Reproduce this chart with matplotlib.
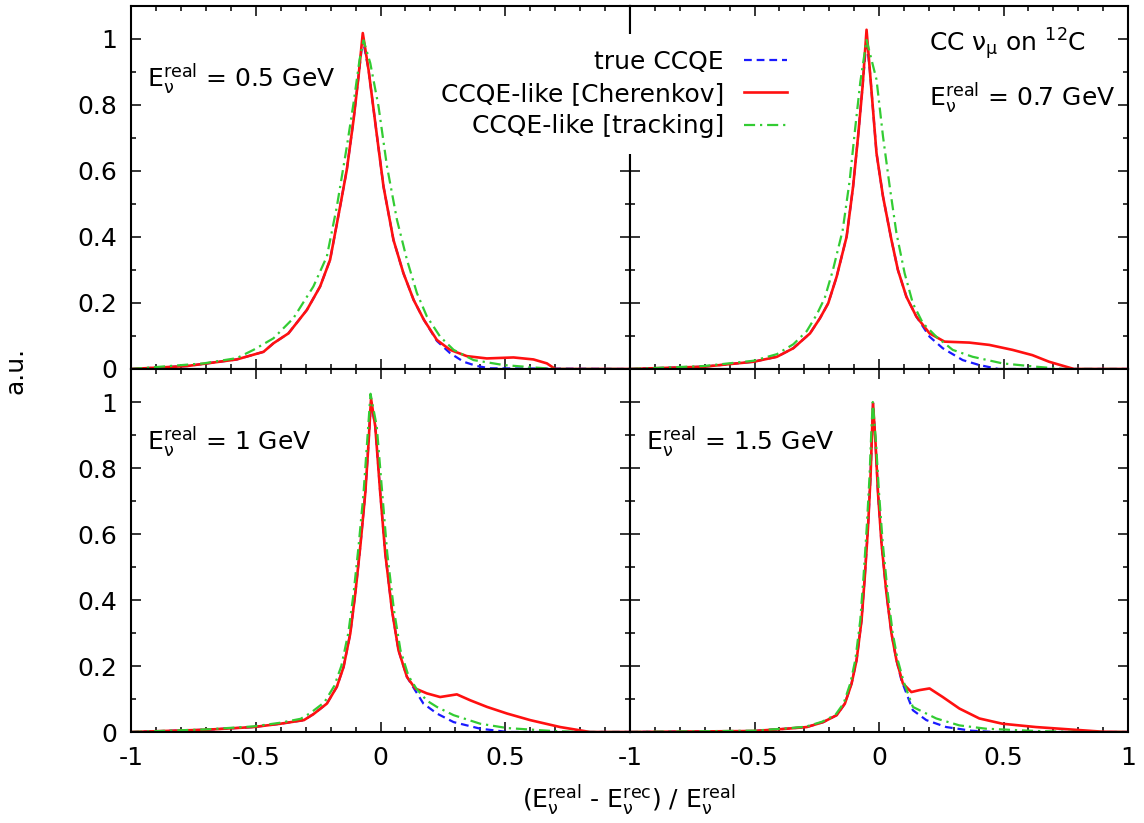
import matplotlib
matplotlib.use("Agg")
import matplotlib.pyplot as plt
from matplotlib.ticker import MultipleLocator, FixedLocator

plt.rcParams['font.family'] = ['DejaVu Sans']
plt.rcParams['mathtext.fontset'] = 'custom'
plt.rcParams['mathtext.rm'] = 'DejaVu Sans'
plt.rcParams['mathtext.it'] = 'DejaVu Sans'
plt.rcParams['mathtext.bf'] = 'DejaVu Sans:bold'

FS = 18

# ---------------- data: (E_real - E_rec)/E_real distributions ----------------
# E = 0.5 GeV
x_true_05 = [-1.0, -0.775, -0.576, -0.469, -0.429, -0.369, -0.295, -0.242, -0.202, -0.162, -0.135,
             -0.108, -0.088, -0.071, -0.048, -0.014, 0.012, 0.052, 0.092, 0.133, 0.174, 0.226,
             0.279, 0.333, 0.386, 0.44, 1.0]
y_true_05 = [0.0, 0.009, 0.029, 0.052, 0.078, 0.108, 0.179, 0.250, 0.331, 0.492, 0.604, 0.755,
             0.887, 1.0, 0.907, 0.705, 0.553, 0.391, 0.290, 0.209, 0.149, 0.085, 0.048, 0.022,
             0.009, 0.002, 0.0]
x_cher_05 = [-1.0, -0.775, -0.576, -0.469, -0.429, -0.369, -0.295, -0.242, -0.202, -0.162, -0.135,
             -0.108, -0.088, -0.071, -0.048, -0.014, 0.012, 0.052, 0.092, 0.133, 0.174, 0.226,
             0.279, 0.346, 0.426, 0.533, 0.613, 0.667, 0.700, 1.0]
y_cher_05 = [0.0, 0.009, 0.029, 0.052, 0.078, 0.108, 0.179, 0.250, 0.331, 0.492, 0.604, 0.755,
             0.887, 1.018, 0.907, 0.705, 0.553, 0.391, 0.290, 0.209, 0.149, 0.088, 0.058, 0.039,
             0.032, 0.035, 0.029, 0.017, 0.0, 0.0]
x_trk_05 = [-1.0, -0.709, -0.576, -0.509, -0.429, -0.349, -0.269, -0.215, -0.175, -0.135, -0.108,
            -0.084, -0.068, -0.041, -0.008, 0.026, 0.066, 0.106, 0.146, 0.186, 0.239, 0.293,
            0.373, 0.493, 0.627, 0.70, 1.0]
y_trk_05 = [0.0, 0.017, 0.033, 0.058, 0.093, 0.154, 0.250, 0.341, 0.492, 0.674, 0.806, 0.937,
            0.996, 0.927, 0.796, 0.614, 0.452, 0.331, 0.230, 0.159, 0.098, 0.058, 0.027, 0.012,
            0.004, 0.0, 0.0]

# E = 0.7 GeV
x_true_07 = [-1.0, -0.704, -0.504, -0.410, -0.344, -0.277, -0.237, -0.204, -0.170, -0.130, -0.104,
             -0.084, -0.066, -0.050, -0.037, -0.010, 0.016, 0.050, 0.076, 0.110, 0.150, 0.203,
             0.256, 0.336, 0.403, 0.48, 1.0]
y_true_07 = [0.0, 0.007, 0.022, 0.037, 0.063, 0.108, 0.154, 0.199, 0.280, 0.401, 0.553, 0.705,
             0.856, 1.0, 0.907, 0.654, 0.523, 0.391, 0.300, 0.219, 0.159, 0.098, 0.063, 0.027,
             0.012, 0.0, 0.0]
x_cher_07 = [-1.0, -0.704, -0.504, -0.410, -0.344, -0.277, -0.237, -0.204, -0.170, -0.130, -0.104,
             -0.084, -0.066, -0.050, -0.037, -0.010, 0.016, 0.050, 0.076, 0.110, 0.150, 0.203,
             0.263, 0.363, 0.443, 0.536, 0.616, 0.683, 0.783, 1.0]
y_cher_07 = [0.0, 0.007, 0.022, 0.037, 0.063, 0.108, 0.154, 0.199, 0.280, 0.401, 0.553, 0.705,
             0.856, 1.028, 0.907, 0.654, 0.523, 0.391, 0.300, 0.219, 0.159, 0.108, 0.083, 0.080,
             0.073, 0.058, 0.042, 0.022, 0.0, 0.0]
x_trk_07 = [-1.0, -0.704, -0.504, -0.410, -0.344, -0.290, -0.250, -0.218, -0.185, -0.146, -0.118,
            -0.097, -0.075, -0.050, -0.010, 0.016, 0.043, 0.070, 0.103, 0.136, 0.176, 0.230,
            0.296, 0.376, 0.496, 0.63, 0.74, 1.0]
y_trk_07 = [0.0, 0.009, 0.025, 0.045, 0.075, 0.115, 0.165, 0.215, 0.300, 0.420, 0.570, 0.720,
            0.870, 0.997, 0.877, 0.705, 0.553, 0.412, 0.290, 0.199, 0.139, 0.098, 0.058, 0.037,
            0.017, 0.007, 0.0, 0.0]

# E = 1 GeV
x_true_10 = [-1.0, -0.696, -0.509, -0.402, -0.307, -0.269, -0.215, -0.175, -0.148, -0.121, -0.101,
             -0.081, -0.061, -0.048, -0.038, -0.021, -0.001, 0.019, 0.046, 0.072, 0.106, 0.126,
             0.172, 0.226, 0.293, 0.400, 0.51, 1.0]
y_true_10 = [0.0, 0.007, 0.015, 0.025, 0.036, 0.054, 0.086, 0.137, 0.197, 0.299, 0.420, 0.562,
             0.724, 0.875, 1.0, 0.926, 0.724, 0.542, 0.369, 0.248, 0.167, 0.142, 0.086, 0.056,
             0.030, 0.010, 0.0, 0.0]
x_cher_10 = [-1.0, -0.696, -0.509, -0.402, -0.307, -0.269, -0.215, -0.175, -0.148, -0.121, -0.101,
             -0.081, -0.061, -0.048, -0.038, -0.021, -0.001, 0.019, 0.046, 0.072, 0.106, 0.139,
             0.186, 0.239, 0.306, 0.360, 0.427, 0.507, 0.600, 0.720, 0.840, 1.0]
y_cher_10 = [0.0, 0.007, 0.015, 0.025, 0.036, 0.054, 0.086, 0.137, 0.197, 0.299, 0.420, 0.562,
             0.724, 0.875, 1.01, 0.926, 0.724, 0.542, 0.369, 0.248, 0.167, 0.132, 0.117, 0.106,
             0.114, 0.096, 0.076, 0.056, 0.036, 0.015, 0.0, 0.0]
x_trk_10 = [-1.0, -0.696, -0.509, -0.402, -0.320, -0.280, -0.225, -0.185, -0.157, -0.129, -0.108,
            -0.088, -0.068, -0.054, -0.040, -0.015, 0.007, 0.027, 0.054, 0.080, 0.112, 0.145,
            0.186, 0.226, 0.293, 0.400, 0.507, 0.69, 0.80, 1.0]
y_trk_10 = [0.0, 0.008, 0.017, 0.028, 0.040, 0.058, 0.090, 0.140, 0.200, 0.300, 0.420, 0.562,
            0.724, 0.875, 1.025, 0.926, 0.724, 0.542, 0.369, 0.248, 0.170, 0.130, 0.095, 0.076,
            0.051, 0.025, 0.012, 0.003, 0.0, 0.0]

# E = 1.5 GeV
x_true_15 = [-1.0, -0.504, -0.370, -0.290, -0.224, -0.170, -0.137, -0.110, -0.090, -0.070, -0.057,
             -0.044, -0.034, -0.028, -0.024, -0.014, -0.004, 0.010, 0.030, 0.050, 0.070, 0.090,
             0.136, 0.190, 0.270, 0.37, 0.46, 1.0]
y_true_15 = [0.0, 0.003, 0.010, 0.015, 0.030, 0.051, 0.086, 0.147, 0.218, 0.339, 0.471, 0.622,
             0.774, 0.906, 0.997, 0.876, 0.724, 0.572, 0.420, 0.299, 0.218, 0.157, 0.066, 0.036,
             0.015, 0.004, 0.0, 0.0]
x_cher_15 = [-1.0, -0.504, -0.370, -0.290, -0.224, -0.170, -0.137, -0.110, -0.090, -0.070, -0.057,
             -0.044, -0.034, -0.028, -0.024, -0.014, -0.004, 0.010, 0.030, 0.050, 0.070, 0.096,
             0.130, 0.163, 0.203, 0.256, 0.323, 0.403, 0.496, 0.630, 0.763, 0.896, 1.0]
y_cher_15 = [0.0, 0.003, 0.010, 0.015, 0.030, 0.051, 0.086, 0.147, 0.218, 0.339, 0.471, 0.622,
             0.774, 0.906, 0.997, 0.876, 0.724, 0.572, 0.420, 0.299, 0.218, 0.147, 0.121, 0.127,
             0.132, 0.106, 0.071, 0.041, 0.025, 0.015, 0.008, 0.001, 0.0]
x_trk_15 = [-1.0, -0.504, -0.370, -0.295, -0.229, -0.175, -0.142, -0.115, -0.095, -0.075, -0.062,
            -0.049, -0.038, -0.031, -0.025, -0.012, 0.000, 0.015, 0.035, 0.055, 0.075, 0.100,
            0.136, 0.230, 0.323, 0.43, 0.63, 0.80, 1.0]
y_trk_15 = [0.0, 0.004, 0.011, 0.016, 0.031, 0.052, 0.087, 0.148, 0.219, 0.340, 0.472, 0.623,
            0.775, 0.907, 1.0, 0.877, 0.725, 0.573, 0.421, 0.300, 0.219, 0.150, 0.076, 0.041,
            0.020, 0.010, 0.003, 0.0, 0.0]

panel_labels = [r'$\mathrm{E}_{\nu}^{\mathrm{real}}$ = 0.5 GeV',
                r'$\mathrm{E}_{\nu}^{\mathrm{real}}$ = 0.7 GeV',
                r'$\mathrm{E}_{\nu}^{\mathrm{real}}$ = 1 GeV',
                r'$\mathrm{E}_{\nu}^{\mathrm{real}}$ = 1.5 GeV']
series_names = ['true CCQE', 'CCQE-like [Cherenkov]', 'CCQE-like [tracking]']
x_ticks = [-1, -0.5, 0, 0.5, 1]
x_tick_labels = ['-1', '-0.5', '0', '0.5', '1']
y_ticks = [0, 0.2, 0.4, 0.6, 0.8, 1]
y_tick_labels = ['0', '0.2', '0.4', '0.6', '0.8', '1']

panels = [
    (x_true_05, y_true_05, x_cher_05, y_cher_05, x_trk_05, y_trk_05),
    (x_true_07, y_true_07, x_cher_07, y_cher_07, x_trk_07, y_trk_07),
    (x_true_10, y_true_10, x_cher_10, y_cher_10, x_trk_10, y_trk_10),
    (x_true_15, y_true_15, x_cher_15, y_cher_15, x_trk_15, y_trk_15),
]

BLUE = '#1a1aff'
RED = '#ff1010'
GREEN = '#33cc33'

# ---------------- figure layout (pixel based) ----------------
W, H = 1144, 823
fig = plt.figure(figsize=(W / 100, H / 100), dpi=100)

L, M, R = 131, 630, 1128
T, C, B = 6, 369, 732


def frac_rect(x0, x1, y0, y1):
    return [x0 / W, 1 - y1 / H, (x1 - x0) / W, (y1 - y0) / H]


axes = [
    fig.add_axes(frac_rect(L, M, T, C)),
    fig.add_axes(frac_rect(M, R, T, C)),
    fig.add_axes(frac_rect(L, M, C, B)),
    fig.add_axes(frac_rect(M, R, C, B)),
]

handles = None
for i, (ax, data) in enumerate(zip(axes, panels)):
    xt, yt, xc, yc, xk, yk = data
    h1, = ax.plot(xt, yt, color=BLUE, lw=1.6, dashes=(3.5, 2.2), label=series_names[0])
    h2, = ax.plot(xc, yc, color=RED, lw=1.9, label=series_names[1])
    h3, = ax.plot(xk, yk, color=GREEN, lw=1.6, dashes=(5, 2.2, 1, 2.2), label=series_names[2])
    if handles is None:
        handles = [h1, h2, h3]

    ax.set_xlim(-1, 1)
    ax.set_ylim(0, 1.1)
    ax.xaxis.set_major_locator(FixedLocator(x_ticks))
    ax.xaxis.set_minor_locator(MultipleLocator(0.1))
    ax.yaxis.set_major_locator(FixedLocator(y_ticks))
    ax.yaxis.set_minor_locator(MultipleLocator(0.1))
    ax.tick_params(which='both', direction='in', top=True, right=True, width=1.1,
                   labelsize=FS)
    ax.tick_params(which='major', length=7.5)
    ax.tick_params(which='minor', length=3.8)
    ax.tick_params(axis='y', pad=10)
    ax.tick_params(axis='x', pad=10)
    for sp in ax.spines.values():
        sp.set_linewidth(1.5)

    # tick labels only on the outer edges
    if i in (0, 2):
        ax.set_yticklabels(y_tick_labels)
    else:
        ax.set_yticklabels([])
    if i == 2:
        ax.set_xticklabels(x_tick_labels[:-1] + [''])
    elif i == 3:
        ax.set_xticklabels(x_tick_labels)
    else:
        ax.set_xticklabels([])

    if i == 1:
        ax.text(0.600, 0.874, r'CC $\nu_{\mu}$ on $^{12}$C', transform=ax.transAxes,
                fontsize=FS, ha='left', va='baseline')
        ax.text(0.600, 0.725, panel_labels[i], transform=ax.transAxes,
                fontsize=FS, ha='left', va='baseline')
    else:
        ax.text(0.032, 0.775, panel_labels[i], transform=ax.transAxes,
                fontsize=FS, ha='left', va='baseline')

# legend with handles right of the labels, on a white background
leg = fig.legend(handles, series_names, loc='upper right',
                 bbox_to_anchor=(802 / W, 1 - 34 / H), markerfirst=False,
                 fontsize=FS, frameon=True, fancybox=False, framealpha=1.0,
                 edgecolor='none', facecolor='white', handlelength=1.7,
                 handletextpad=0.8, labelspacing=0.34, borderpad=0.62,
                 borderaxespad=0)
leg.set_zorder(10)

fig.text(15 / W, 1 - 370 / H, 'a.u.', rotation=90, fontsize=FS, ha='center', va='center')
fig.text(629 / W, 1 - 800 / H,
         r'($\mathrm{E}_{\nu}^{\mathrm{real}}$ - $\mathrm{E}_{\nu}^{\mathrm{rec}}$) / $\mathrm{E}_{\nu}^{\mathrm{real}}$',
         fontsize=FS, ha='center', va='center')

fig.savefig('out.png', dpi=100, facecolor='white')
